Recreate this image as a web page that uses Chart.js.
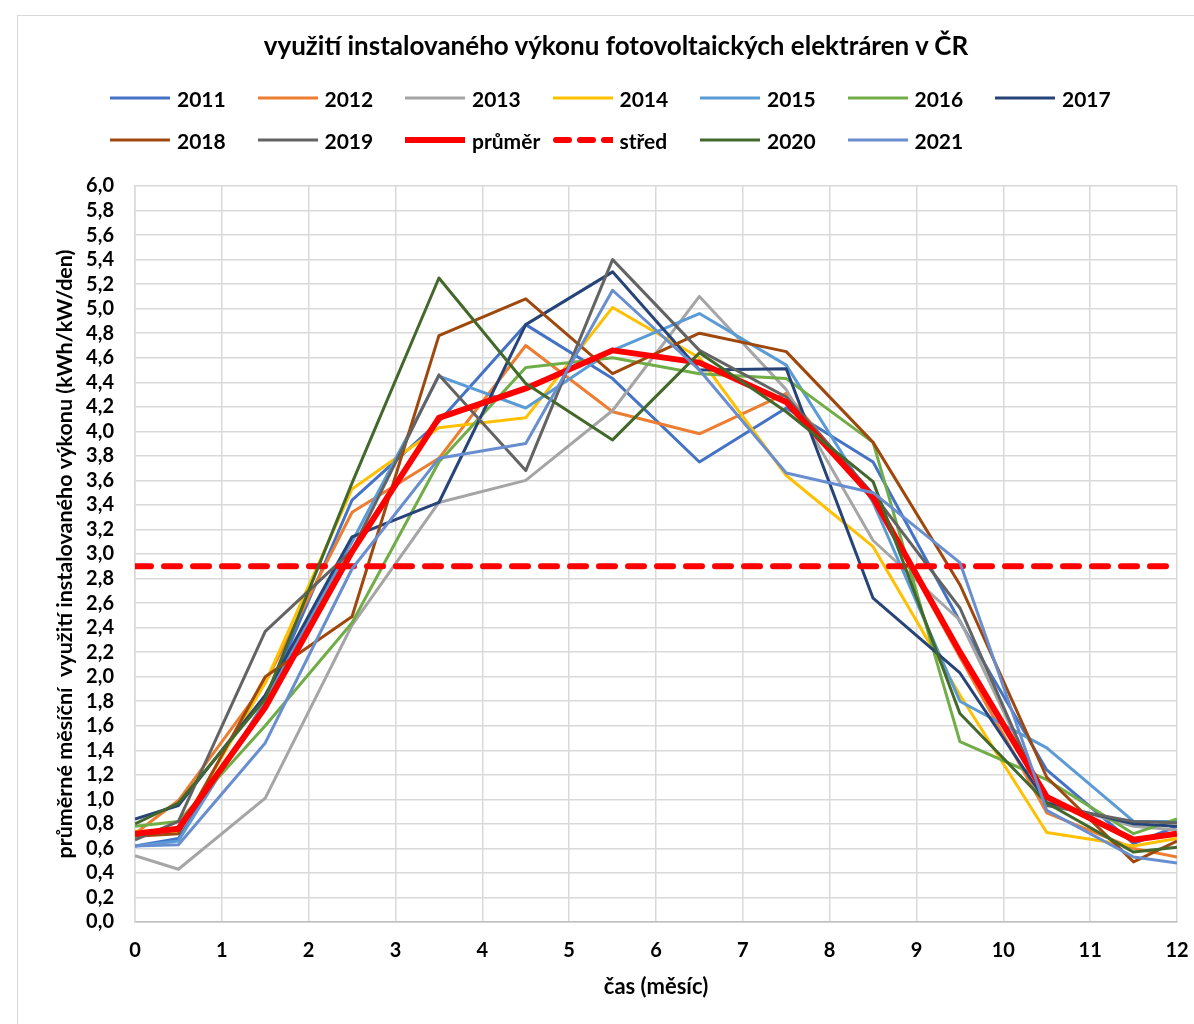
<!DOCTYPE html>
<html>
<head>
<meta charset="utf-8">
<script src="https://cdn.jsdelivr.net/npm/chart.js@4.4.1/dist/chart.umd.min.js"></script>
<style>
  html, body { margin: 0; padding: 0; background: #fff; }
  body { width: 1194px; height: 1024px; overflow: hidden; position: relative; font-family: Lato, "Open Sans", sans-serif; color: #000; }
  #frame { position: absolute; left: 17px; top: 15px; width: 1200px; height: 1040px; border: 1px solid #d9d9d9; }
  #chart { position: absolute; left: 0; top: 0; }
  #title { position: absolute; left: 17px; width: 1198px; top: 29px; text-align: center; font-weight: bold; font-size: 26px; line-height: 32px; white-space: nowrap; }
  .item { position: absolute; height: 26px; display: flex; align-items: center; font-weight: bold; font-size: 21px; white-space: nowrap; }
  .item svg { margin-right: 7px; }
</style>
</head>
<body>
<div id="frame"></div>
<canvas id="chart" width="1194" height="1024"></canvas>
<div id="title">využití instalovaného výkonu fotovoltaických elektráren v ČR</div>
<div id="legend"></div>
<script>
// months on the x axis (mid-month points plus both ends)
const months = [0, 0.5, 1.5, 2.5, 3.5, 4.5, 5.5, 6.5, 7.5, 8.5, 9.5, 10.5, 11.5, 12];

const y2011 = [0.62, 0.68, 1.80, 3.44, 4.08, 4.87, 4.43, 3.75, 4.19, 3.75, 2.45, 1.24, 0.64, 0.78];
const y2012 = [0.72, 0.99, 1.95, 3.34, 3.78, 4.70, 4.16, 3.98, 4.31, 3.45, 2.16, 0.89, 0.60, 0.53];
const y2013 = [0.54, 0.43, 1.01, 2.42, 3.42, 3.60, 4.17, 5.10, 4.34, 3.11, 2.46, 0.98, 0.78, 0.75];
const y2014 = [0.74, 0.74, 1.95, 3.53, 4.03, 4.11, 5.01, 4.60, 3.64, 3.06, 1.85, 0.73, 0.62, 0.68];
const y2015 = [0.62, 0.66, 1.80, 3.10, 4.45, 4.19, 4.66, 4.96, 4.54, 3.42, 1.80, 1.42, 0.82, 0.82];
const y2016 = [0.78, 0.82, 1.60, 2.44, 3.75, 4.52, 4.60, 4.47, 4.43, 3.91, 1.47, 1.16, 0.72, 0.84];
const y2017 = [0.84, 0.95, 1.85, 3.14, 3.42, 4.87, 5.30, 4.50, 4.51, 2.64, 2.03, 0.97, 0.80, 0.78];
const y2018 = [0.70, 0.72, 2.00, 2.49, 4.78, 5.08, 4.47, 4.80, 4.65, 3.91, 2.75, 1.18, 0.49, 0.66];
const y2019 = [0.67, 0.82, 2.37, 3.03, 4.46, 3.68, 5.40, 4.66, 4.28, 3.49, 2.56, 0.95, 0.82, 0.81];
const prumer = [0.72, 0.76, 1.75, 3.02, 4.11, 4.35, 4.66, 4.56, 4.24, 3.46, 2.20, 1.02, 0.67, 0.72];
const stredMonths = [0, 12];
const stred = [2.9, 2.9];
const y2020 = [0.80, 0.97, 1.82, 3.58, 5.25, 4.39, 3.93, 4.64, 4.16, 3.59, 1.70, 0.97, 0.57, 0.61];
const y2021 = [0.62, 0.63, 1.46, 2.88, 3.78, 3.90, 5.15, 4.50, 3.66, 3.50, 2.93, 0.91, 0.53, 0.48];

const series = [
    { label: '2011', data: y2011, color: '#4472C4' },
    { label: '2012', data: y2012, color: '#ED7D31' },
    { label: '2013', data: y2013, color: '#A5A5A5' },
    { label: '2014', data: y2014, color: '#FFC000' },
    { label: '2015', data: y2015, color: '#5B9BD5' },
    { label: '2016', data: y2016, color: '#70AD47' },
    { label: '2017', data: y2017, color: '#264478' },
    { label: '2018', data: y2018, color: '#9E480E' },
    { label: '2019', data: y2019, color: '#636363' },
    { label: 'průměr', data: prumer, color: '#FF0000', width: 6 },
    { label: 'střed', data: stred, x: stredMonths, color: '#FF0000', width: 6, dash: [16, 13] },
    { label: '2020', data: y2020, color: '#43682B' },
    { label: '2021', data: y2021, color: '#698ED0' }
];

const font = 'Lato, "Open Sans", sans-serif';

const datasets = series.map((s, i) => ({
    label: s.label,
    data: (s.x || months).map((m, j) => ({ x: m, y: s.data[j] })),
    borderColor: s.color,
    backgroundColor: s.color,
    borderWidth: s.width || 3,
    borderDash: s.dash || [],
    borderCapStyle: s.dash ? 'round' : 'butt',
    borderJoinStyle: 'round',
    pointRadius: 0,
    tension: 0,
    fill: false,
    order: series.length - i   // later series drawn on top, like the original
}));

const chart = new Chart(document.getElementById('chart').getContext('2d'), {
    type: 'line',
    data: { datasets },
    options: {
        responsive: false,
        animation: false,
        devicePixelRatio: 1,
        layout: { padding: { left: 20, right: 17, top: 186, bottom: 2 } },
        plugins: { legend: { display: false }, tooltip: { enabled: false } },
        scales: {
            x: {
                type: 'linear', min: 0, max: 12,
                ticks: { stepSize: 1, padding: 17, maxRotation: 0, color: '#000', font: { family: font, size: 20, weight: 'bold' } },
                grid: { color: '#d9d9d9', lineWidth: 1.5, drawTicks: false },
                border: { color: '#bfbfbf', width: 1.5 },
                title: { display: true, text: 'čas (měsíc)', color: '#000', font: { family: font, size: 22, weight: 'bold' }, padding: { top: 0, bottom: 22 } },
                afterFit: s => { s.height = 100; s.paddingLeft = 0; s.paddingRight = 12; }
            },
            y: {
                min: 0, max: 6,
                ticks: { stepSize: 0.2, padding: 21, autoSkip: false, color: '#000', font: { family: font, size: 20, weight: 'bold' },
                    callback: v => v.toFixed(1).replace('.', ',') },
                grid: { color: '#d9d9d9', lineWidth: 1.5, drawTicks: false },
                border: { color: '#d9d9d9', width: 1.5 },
                title: { display: true, text: 'průměrné měsíční  využití instalovaného výkonu (kWh/kW/den)', color: '#000', font: { family: font, size: 21.5, weight: 'bold' }, padding: { top: 32, bottom: 0 } },
                afterFit: s => { s.width = 115; }
            }
        }
    }
});

// legend laid out in fixed columns, two rows
const legend = document.getElementById('legend');
chart.data.datasets.forEach((ds, k) => {
    const row = k < 7 ? 0 : 1;
    const col = k % 7;
    const item = document.createElement('div');
    item.className = 'item';
    item.style.left = (110 + col * 147.5) + 'px';
    item.style.top = (row ? 127 : 85) + 'px';
    const dashed = ds.borderDash.length > 0;
    const dash = dashed ? ' stroke-dasharray="13 11" stroke-linecap="round"' : '';
    const x1 = dashed ? 3 : 0;
    item.innerHTML = '<svg width="60" height="10"><line x1="' + x1 + '" y1="5" x2="60" y2="5" stroke="' + ds.borderColor +
        '" stroke-width="' + ds.borderWidth + '"' + dash + '/></svg><span>' + ds.label + '</span>';
    legend.appendChild(item);
});
</script>
</body>
</html>
